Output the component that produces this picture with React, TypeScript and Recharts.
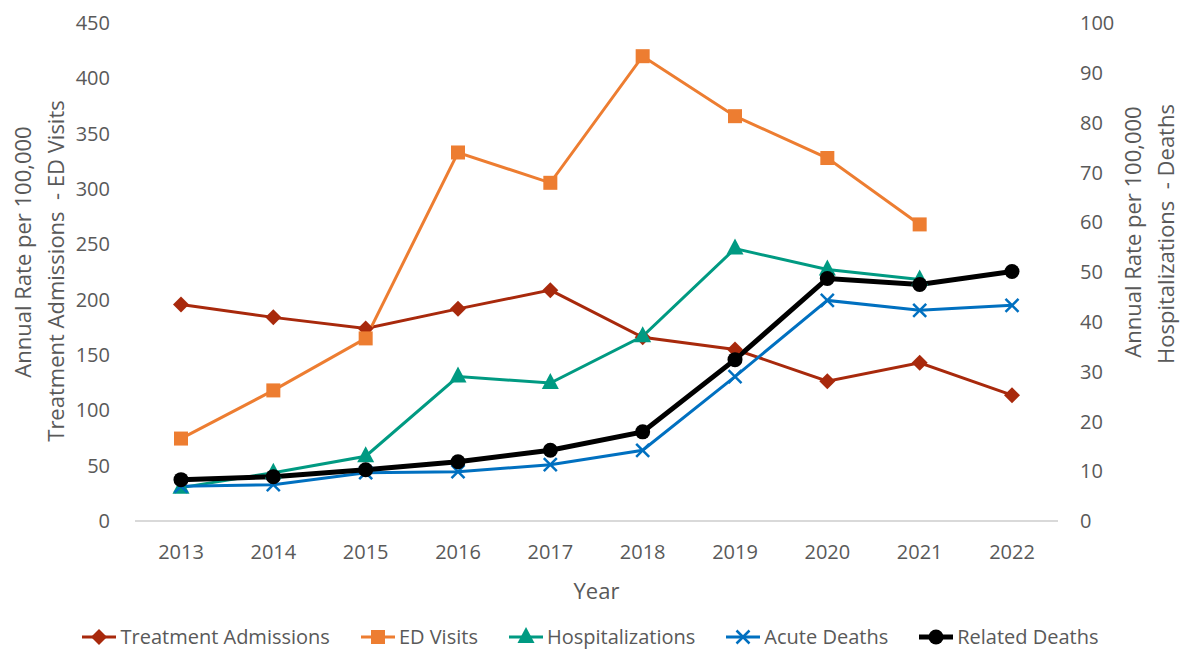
import { LineChart, Line, XAxis, YAxis } from "recharts";

const years = ["2013", "2014", "2015", "2016", "2017", "2018", "2019", "2020", "2021", "2022"];
// left axis
const treatmentAdmissions = [195.6, 184, 174, 191.7, 208.6, 166, 155, 126.3, 143, 113.7];
const edVisits = [74.5, 118, 165, 333, 305.6, 420, 365.8, 328, 268, null];
// right axis
const hospitalizations = [6.7, 9.7, 13.0, 29, 27.7, 37.1, 54.7, 50.5, 48.5, null];
const acuteDeaths = [7.0, 7.3, 9.7, 9.9, 11.3, 14.2, 29, 44.3, 42.3, 43.3];
const relatedDeaths = [8.3, 8.9, 10.3, 11.9, 14.2, 17.9, 32.4, 48.7, 47.5, 50.1];

const leftTicks = [0, 50, 100, 150, 200, 250, 300, 350, 400, 450];
const rightTicks = [0, 10, 20, 30, 40, 50, 60, 70, 80, 90, 100];

const data = years.map((year, i) => ({
  year,
  treatment: treatmentAdmissions[i],
  ed: edVisits[i],
  hosp: hospitalizations[i],
  acute: acuteDeaths[i],
  related: relatedDeaths[i],
}));

const FONT = "'Open Sans', sans-serif";
const TEXT = "#595959";

const C_TREAT = "#A8290C";
const C_ED = "#ED7D31";
const C_HOSP = "#009A82";
const C_ACUTE = "#0070C0";
const C_REL = "#000000";

type Shape = "diamond" | "square" | "triangle" | "x" | "circle";

function Marker({ shape, cx, cy, color }: { shape: Shape; cx: number; cy: number; color: string }) {
  switch (shape) {
    case "diamond":
      return <polygon points={`${cx},${cy - 8} ${cx + 8},${cy} ${cx},${cy + 8} ${cx - 8},${cy}`} fill={color} />;
    case "square":
      return <rect x={cx - 7} y={cy - 7} width={14} height={14} fill={color} />;
    case "triangle":
      return <polygon points={`${cx},${cy - 10} ${cx + 8.5},${cy + 6} ${cx - 8.5},${cy + 6}`} fill={color} />;
    case "x":
      return (
        <g stroke={color} strokeWidth={2.5}>
          <line x1={cx - 6.5} y1={cy - 6.5} x2={cx + 6.5} y2={cy + 6.5} />
          <line x1={cx - 6.5} y1={cy + 6.5} x2={cx + 6.5} y2={cy - 6.5} />
        </g>
      );
    default:
      return <circle cx={cx} cy={cy} r={7.5} fill={color} />;
  }
}

const makeDot = (shape: Shape, color: string) => (props: any) => {
  const { cx, cy, index, value } = props;
  if (cx == null || cy == null || value == null) return <g key={`d-${shape}-${index}`} />;
  return (
    <g key={`d-${shape}-${index}`}>
      <Marker shape={shape} cx={cx} cy={cy} color={color} />
    </g>
  );
};

const LeftTitle = () => (
  <g fill={TEXT} fontFamily={FONT} fontSize={22}>
    <text transform="translate(22,252) rotate(-90)" textAnchor="middle" dominantBaseline="central">
      Annual Rate per 100,000
    </text>
    <text transform="translate(55,271) rotate(-90)" textAnchor="middle" dominantBaseline="central" style={{ whiteSpace: "pre" }}>
      Treatment Admissions  - ED Visits
    </text>
  </g>
);

const RightTitle = () => (
  <g fill={TEXT} fontFamily={FONT} fontSize={22}>
    <text transform="translate(1132,232) rotate(-90)" textAnchor="middle" dominantBaseline="central">
      Annual Rate per 100,000
    </text>
    <text transform="translate(1165,234) rotate(-90)" textAnchor="middle" dominantBaseline="central" style={{ whiteSpace: "pre" }}>
      Hospitalizations  - Deaths
    </text>
  </g>
);

const legendItems: { label: string; shape: Shape; color: string; width: number }[] = [
  { label: "Treatment Admissions", shape: "diamond", color: C_TREAT, width: 3 },
  { label: "ED Visits", shape: "square", color: C_ED, width: 3 },
  { label: "Hospitalizations", shape: "triangle", color: C_HOSP, width: 3 },
  { label: "Acute Deaths", shape: "x", color: C_ACUTE, width: 3 },
  { label: "Related Deaths", shape: "circle", color: C_REL, width: 5 },
];

export default function App() {
  return (
    <div style={{ position: "absolute", left: 0, top: 0, width: 1180, height: 650, background: "#fff", fontFamily: FONT }}>
      <LineChart width={1180} height={650} data={data} margin={{ top: 23, right: 0, left: 0, bottom: 49 }}>
        <XAxis
          dataKey="year"
          height={80}
          padding={{ left: 46, right: 46 }}
          axisLine={{ stroke: "#D9D9D9", strokeWidth: 2 }}
          tickLine={false}
          tickSize={0}
          tickMargin={24}
          tick={{ fill: TEXT, fontSize: 20, fontFamily: FONT }}
          label={{ value: "Year", position: "insideBottom", offset: 2, fill: TEXT, fontSize: 22, fontFamily: FONT }}
        />
        <YAxis
          yAxisId="left"
          width={135}
          domain={[0, 450]}
          ticks={leftTicks}
          interval={0}
          axisLine={false}
          tickLine={false}
          tickSize={0}
          tickMargin={25}
          tick={{ fill: TEXT, fontSize: 20, fontFamily: FONT }}
          label={<LeftTitle />}
        />
        <YAxis
          yAxisId="right"
          orientation="right"
          width={122}
          domain={[0, 100]}
          ticks={rightTicks}
          interval={0}
          axisLine={false}
          tickLine={false}
          tickSize={0}
          tickMargin={22}
          tick={{ fill: TEXT, fontSize: 20, fontFamily: FONT, textAnchor: "start" }}
          label={<RightTitle />}
        />
        <Line yAxisId="left" dataKey="treatment" stroke={C_TREAT} strokeWidth={3} dot={makeDot("diamond", C_TREAT)} activeDot={false} isAnimationActive={false} />
        <Line yAxisId="left" dataKey="ed" stroke={C_ED} strokeWidth={3} dot={makeDot("square", C_ED)} activeDot={false} isAnimationActive={false} />
        <Line yAxisId="right" dataKey="hosp" stroke={C_HOSP} strokeWidth={3} dot={makeDot("triangle", C_HOSP)} activeDot={false} isAnimationActive={false} />
        <Line yAxisId="right" dataKey="acute" stroke={C_ACUTE} strokeWidth={3} dot={makeDot("x", C_ACUTE)} activeDot={false} isAnimationActive={false} />
        <Line yAxisId="right" dataKey="related" stroke={C_REL} strokeWidth={5} dot={makeDot("circle", C_REL)} activeDot={false} isAnimationActive={false} />
      </LineChart>
      <div
        style={{
          position: "absolute",
          left: 0,
          width: 1180,
          top: 623,
          display: "flex",
          justifyContent: "center",
          gap: 30,
          fontSize: 20,
          color: TEXT,
          lineHeight: "28px",
        }}
      >
        {legendItems.map((it) => (
          <div key={it.label} style={{ display: "flex", alignItems: "center" }}>
            <svg width={36} height={20} style={{ marginRight: 3 }}>
              <line x1={1} y1={10} x2={35} y2={10} stroke={it.color} strokeWidth={it.width} />
              <Marker shape={it.shape} cx={18} cy={10} color={it.color} />
            </svg>
            <span>{it.label}</span>
          </div>
        ))}
      </div>
    </div>
  );
}
